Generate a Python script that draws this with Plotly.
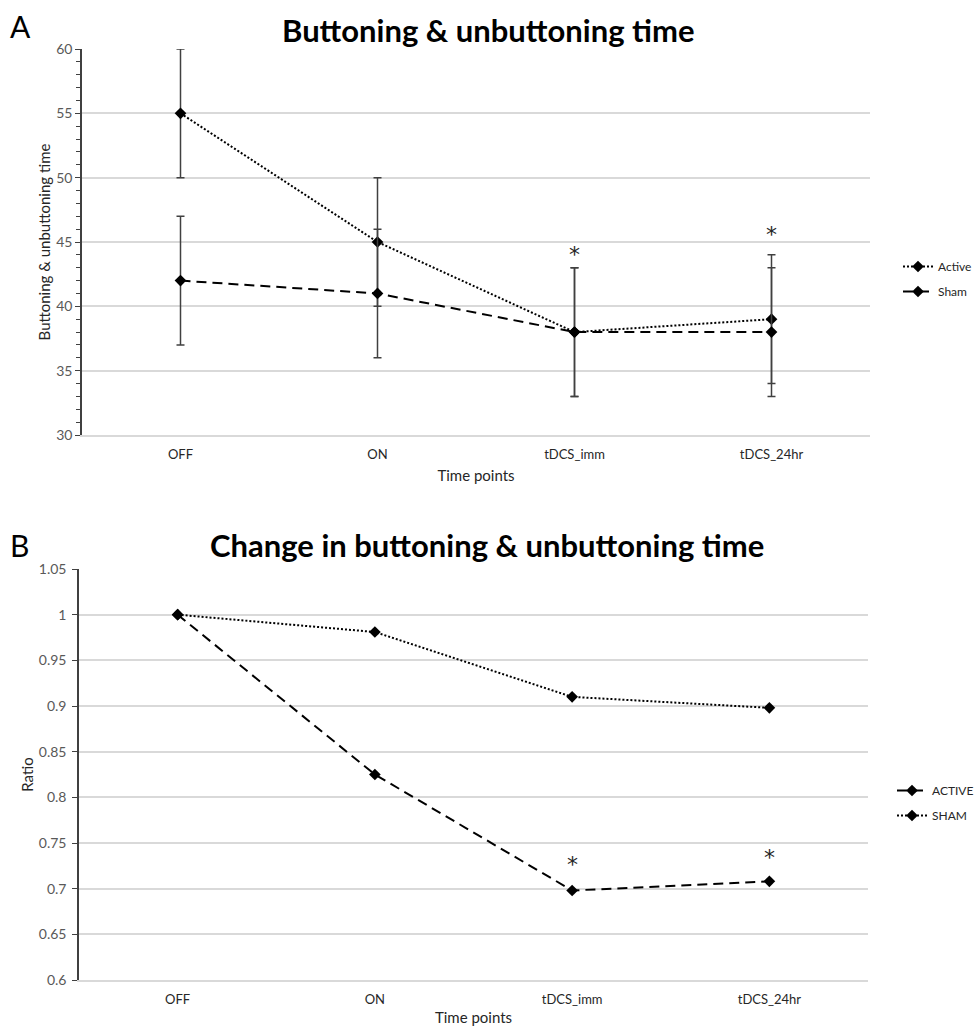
import plotly.graph_objects as go

# ---- data ----
time_points = ["OFF", "ON", "tDCS_imm", "tDCS_24hr"]

# Panel A: buttoning & unbuttoning time
active_time = [55, 45, 38, 39]
active_err = [5, 5, 5, 5]
sham_time = [42, 41, 38, 38]
sham_err = [5, 5, 5, 5]
sig_points_a = ["tDCS_imm", "tDCS_24hr"]
sig_y_a = [44.0, 45.6]

# Panel B: ratio
active_ratio = [1.0, 0.825, 0.698, 0.708]
sham_ratio = [1.0, 0.981, 0.910, 0.898]
sig_points_b = ["tDCS_imm", "tDCS_24hr"]
sig_y_b = [0.726, 0.734]

FONT = "Lato, 'Open Sans', sans-serif"
TICK_COL = "#595959"
GRID_COL = "#d9d9d9"
ERR_COL = "#404040"
W, H = 975, 1026

fig = go.Figure()

marker = dict(symbol="diamond", size=9, color="black")

# Panel A traces
fig.add_trace(go.Scatter(
    x=time_points, y=active_time, name="Active", mode="lines+markers", legendgroup="a1",
    line=dict(color="black", width=2, dash="2px,2px"), marker=marker,
    error_y=dict(type="data", array=active_err, visible=True, color=ERR_COL, thickness=1.5, width=4),
    xaxis="x", yaxis="y", legend="legend"))
fig.add_trace(go.Scatter(
    x=time_points, y=sham_time, name="Sham", mode="lines+markers", legendgroup="a2",
    line=dict(color="black", width=2, dash="10px,6px"), marker=marker,
    error_y=dict(type="data", array=sham_err, visible=True, color=ERR_COL, thickness=1.5, width=4),
    xaxis="x", yaxis="y", legend="legend"))

# Panel B traces
fig.add_trace(go.Scatter(
    x=time_points, y=active_ratio, name="ACTIVE", mode="lines+markers", legendgroup="b1",
    line=dict(color="black", width=2, dash="10px,6px"), marker=marker,
    xaxis="x2", yaxis="y2", legend="legend2"))
fig.add_trace(go.Scatter(
    x=time_points, y=sham_ratio, name="SHAM", mode="lines+markers", legendgroup="b2",
    line=dict(color="black", width=2, dash="2px,2px"), marker=marker,
    xaxis="x2", yaxis="y2", legend="legend2"))

star_font = dict(size=22, color="#262626", family="'DejaVu Sans', sans-serif")
annotations = []
for xp, yp in zip(sig_points_a, sig_y_a):
    annotations.append(dict(x=xp, y=yp, xref="x", yref="y", text="*", showarrow=False, font=star_font))
for xp, yp in zip(sig_points_b, sig_y_b):
    annotations.append(dict(x=xp, y=yp, xref="x2", yref="y2", text="*", showarrow=False, font=star_font))

# Titles and panel letters
annotations += [
    dict(text="<b>Buttoning & unbuttoning time</b>", x=488 / W, y=1 - 30 / H, xref="paper", yref="paper",
         showarrow=False, font=dict(size=31, color="black", family=FONT), xanchor="center", yanchor="middle"),
    dict(text="<b>Change in buttoning & unbuttoning time</b>", x=487 / W, y=1 - 545 / H, xref="paper", yref="paper",
         showarrow=False, font=dict(size=31, color="black", family=FONT), xanchor="center", yanchor="middle"),
    dict(text="A", x=8 / W, y=1 - 26 / H, xref="paper", yref="paper", showarrow=False,
         font=dict(size=30, color="black", family=FONT), xanchor="left", yanchor="middle"),
    dict(text="B", x=8 / W, y=1 - 545 / H, xref="paper", yref="paper", showarrow=False,
         font=dict(size=30, color="black", family=FONT), xanchor="left", yanchor="middle"),
]

xcommon = dict(type="category", categoryorder="array", categoryarray=time_points,
               range=[-0.5, 3.5], showgrid=False, showline=True, linecolor=GRID_COL, linewidth=2,
               ticks="", ticklabelstandoff=6,
               tickfont=dict(size=13, color="#262626", family=FONT), zeroline=False,
               automargin=False,
               title=dict(text="Time points", font=dict(size=15, color="#262626", family=FONT), standoff=10))

ycommon = dict(showgrid=True, gridcolor=GRID_COL, gridwidth=1.5, showline=True, linecolor="#404040",
               linewidth=1.5, ticks="outside", ticklen=5, tickcolor="#404040", automargin=False,
               tickfont=dict(size=14, color=TICK_COL, family=FONT), zeroline=False)

fig.update_layout(
    template="none",
    autosize=False,
    width=W, height=H,
    margin=dict(l=0, r=0, t=0, b=0, pad=0, autoexpand=False),
    paper_bgcolor="white", plot_bgcolor="white",
    font=dict(family=FONT, color="#262626"),
    showlegend=True,
    xaxis=dict(domain=[82 / W, 870 / W], anchor="y", **xcommon),
    yaxis=dict(domain=[1 - 435 / H, 1 - 49 / H], anchor="x", range=[30, 60], dtick=5,
               minor=dict(dtick=1, ticks="outside", ticklen=4, tickcolor="#404040", showgrid=False),
               title=dict(text="Buttoning & unbuttoning time", font=dict(size=15, color="#262626", family=FONT),
                          standoff=2),
               **ycommon),
    xaxis2=dict(domain=[79 / W, 868 / W], anchor="y2", **xcommon),
    yaxis2=dict(domain=[1 - 980 / H, 1 - 569 / H], anchor="x2", range=[0.6, 1.05], dtick=0.05,
                tickformat="~g", ticklabelstandoff=3,
                title=dict(text="Ratio", font=dict(size=15, color="#262626", family=FONT), standoff=2),
                **ycommon),
    legend=dict(x=898 / W, y=1 - 252 / H, xanchor="left", yanchor="top",
                font=dict(size=12, color="#262626", family=FONT), itemwidth=30,
                bgcolor="rgba(0,0,0,0)", tracegroupgap=6),
    legend2=dict(x=892 / W, y=1 - 776 / H, xanchor="left", yanchor="top",
                 font=dict(size=12, color="#262626", family=FONT), itemwidth=30,
                 bgcolor="rgba(0,0,0,0)", tracegroupgap=6),
    annotations=annotations,
)

fig.write_html("out.html",
               config={"responsive": False, "displayModeBar": False},
               post_script="document.body.style.margin='0';document.body.style.overflow='hidden';")
